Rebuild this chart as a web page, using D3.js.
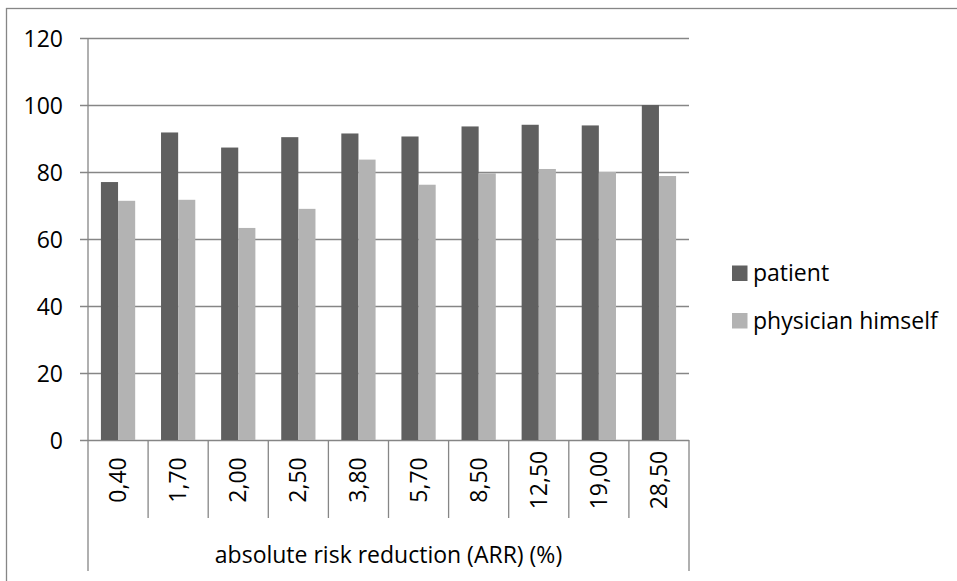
<!DOCTYPE html>
<html>
<head>
<meta charset="utf-8">
<script src="https://cdn.jsdelivr.net/npm/d3@7"></script>
<style>
  html, body { margin: 0; padding: 0; background: #ffffff; }
  svg { display: block; }
  text { font-family: "Open Sans", Lato, sans-serif; fill: #000; }
</style>
</head>
<body>
<svg id="chart" width="957" height="581"></svg>
<script>
// ---- Data ----
const categories = ["0,40", "1,70", "2,00", "2,50", "3,80", "5,70", "8,50", "12,50", "19,00", "28,50"];
const seriesNames = ["patient", "physician himself"];
const patientValues = [77.0, 91.8, 87.3, 90.4, 91.5, 90.6, 93.6, 94.1, 93.9, 100.0];
const physicianValues = [71.4, 71.7, 63.3, 69.0, 83.7, 76.2, 79.6, 80.9, 80.0, 78.8];
const yTicks = [0, 20, 40, 60, 80, 100, 120];
const axisTitle = "absolute risk reduction (ARR) (%)";
const seriesColors = ["#606060", "#b3b3b3"];

const seriesValues = [patientValues, physicianValues];

const svg = d3.select("#chart");
const fontSize = 23;
const fontFamily = "'Open Sans', Lato, sans-serif";
const gridColor = "#868686";

// Outer frame (right/bottom edges fall outside the view)
svg.append("rect")
  .attr("x", 6.5).attr("y", 8.5)
  .attr("width", 1000).attr("height", 1000)
  .attr("fill", "none").attr("stroke", gridColor).attr("stroke-width", 1.3);

const plotLeft = 88, plotRight = 689, plotTop = 38, plotBottom = 440;

const x = d3.scaleBand().domain(categories).range([plotLeft, plotRight]).paddingInner(0).paddingOuter(0);
const y = d3.scaleLinear().domain([0, 120]).range([plotBottom, plotTop]);

const bw = x.bandwidth();
const barW = bw * 0.285;
const x1 = d3.scaleBand().domain(seriesNames).range([bw / 2 - barW, bw / 2 + barW]).padding(0);

// Gridlines with outward ticks
const yAxis = d3.axisLeft(y).tickValues(yTicks).tickSize(-(plotRight - plotLeft)).tickFormat(d3.format("d")).tickPadding(0);
const gy = svg.append("g").attr("transform", `translate(${plotLeft},0)`).call(yAxis);
gy.select(".domain").remove();
gy.selectAll(".tick line").attr("stroke", gridColor).attr("stroke-width", 1.3).attr("x1", -8);
gy.selectAll(".tick text")
  .attr("x", -25)
  .attr("dy", "0.36em")
  .style("font-size", fontSize + "px")
  .style("font-family", fontFamily)
  .attr("fill", "#000");

// Bars
const groups = svg.append("g").selectAll("g")
  .data(categories)
  .join("g")
  .attr("transform", d => `translate(${x(d)},0)`);

groups.selectAll("rect")
  .data((d, i) => seriesNames.map((s, j) => ({ s, v: seriesValues[j][i], j })))
  .join("rect")
  .attr("x", d => x1(d.s))
  .attr("width", x1.bandwidth())
  .attr("y", d => y(d.v))
  .attr("height", d => y(0) - y(d.v))
  .attr("fill", d => seriesColors[d.j]);

// Y axis line
svg.append("line")
  .attr("x1", plotLeft).attr("x2", plotLeft)
  .attr("y1", plotTop).attr("y2", plotBottom)
  .attr("stroke", gridColor).attr("stroke-width", 1.3);

// Category separators
const sepBottom = 518, groupBottom = 571;
const bounds = categories.map(c => x(c)).concat([plotRight]);
svg.append("g").selectAll("line")
  .data(bounds)
  .join("line")
  .attr("x1", d => d).attr("x2", d => d)
  .attr("y1", plotBottom)
  .attr("y2", (d, i) => (i === 0 || i === bounds.length - 1) ? groupBottom : sepBottom)
  .attr("stroke", gridColor).attr("stroke-width", 1.3);

// Category labels (rotated)
svg.append("g").selectAll("text")
  .data(categories)
  .join("text")
  .attr("transform", d => `translate(${x(d) + bw / 2 + 8},480) rotate(-90)`)
  .attr("text-anchor", "middle")
  .style("font-size", fontSize + "px")
  .text(d => d);

// Axis title
svg.append("text")
  .attr("x", (plotLeft + plotRight) / 2)
  .attr("y", 563)
  .attr("text-anchor", "middle")
  .style("font-size", fontSize + "px")
  .text(axisTitle);

// Legend
const legend = svg.append("g").selectAll("g")
  .data(seriesNames)
  .join("g")
  .attr("transform", (d, i) => `translate(732,${281 + i * 47.5})`);
legend.append("rect")
  .attr("x", 0).attr("y", -15.5)
  .attr("width", 15.5).attr("height", 15.5)
  .attr("fill", (d, i) => seriesColors[i]);
legend.append("text")
  .attr("x", 21).attr("y", 0)
  .style("font-size", fontSize + "px")
  .text(d => d);
</script>
</body>
</html>
